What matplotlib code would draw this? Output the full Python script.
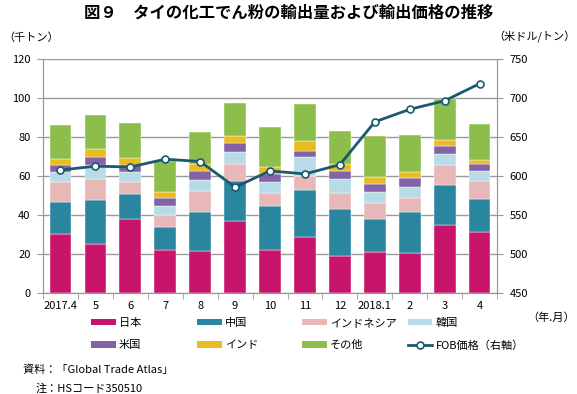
import numpy as np
import matplotlib
matplotlib.use("Agg")
import matplotlib.pyplot as plt
from matplotlib.patches import Patch
from matplotlib.lines import Line2D

plt.rcParams["font.family"] = ["Noto Sans CJK JP", "DejaVu Sans"]

# ── data (千トン / 米ドル per トン) ─────────────────────────────────────────────
MONTHS    = ["2017.4", "5", "6", "7", "8", "9", "10", "11", "12", "2018.1", "2", "3", "4"]
japan     = [30.4, 25.3, 38.3, 22.2, 21.5, 37.3, 22.1, 28.9, 19.1, 20.9, 20.5, 35.0, 31.5]
china     = [16.3, 22.4, 12.5, 12.0, 20.2, 20.5, 22.9, 24.3, 24.1, 17.2, 21.4, 20.5, 16.7]
indonesia = [10.6, 10.9,  6.1,  6.0, 10.6,  8.4,  6.5,  7.1,  8.1,  8.4,  7.2, 10.1,  9.6]
korea     = [ 5.1,  7.2,  5.2,  4.4,  6.0,  6.1,  5.8,  9.4,  7.5,  5.6,  5.3,  6.0,  5.1]
usa       = [ 3.6,  3.9,  3.9,  4.3,  4.3,  5.0,  3.7,  3.5,  3.9,  4.1,  4.6,  3.8,  3.4]
india     = [ 2.7,  4.1,  3.4,  3.2,  3.9,  3.2,  4.0,  5.1,  3.8,  3.6,  3.4,  3.1,  2.2]
others    = [17.6, 17.7, 18.0, 15.8, 16.4, 17.3, 20.5, 18.8, 16.7, 20.9, 18.8, 21.2, 18.3]
fob_price = [608, 613, 612, 622, 619, 586, 607, 603, 615, 670, 686, 697, 719]

SERIES = [
    ("日本",         japan,     "#c8156b"),
    ("中国",         china,     "#2a859f"),
    ("インドネシア", indonesia, "#e8b8b8"),
    ("韓国",         korea,     "#b8dbe8"),
    ("米国",         usa,       "#8462a7"),
    ("インド",       india,     "#e9bd22"),
    ("その他",       others,    "#8dbe4b"),
]
LINE_COLOR = "#1b5a6e"
GRID_COLOR = "#999999"
FS = 8

# ── figure ────────────────────────────────────────────────────────────────────
fig = plt.figure(figsize=(5.77, 3.94), dpi=100)
ax = fig.add_axes([0.0745, 0.256, 0.787, 0.593])

x = np.arange(len(MONTHS))
bottom = np.zeros(len(MONTHS))
for name, vals, color in SERIES:
    ax.bar(x, vals, bottom=bottom, width=0.62, color=color,
           edgecolor="white", linewidth=0.3, zorder=2)
    bottom += np.array(vals)

ax.set_xlim(-0.5, len(MONTHS) - 0.5)
ax.set_ylim(0, 120)
ax.set_yticks(range(0, 121, 20))
ax.yaxis.grid(True, color=GRID_COLOR, linewidth=1.0, zorder=0)
ax.set_axisbelow(True)

ax.set_xticks(x)
ax.set_xticklabels(MONTHS)
ax.set_xticks(np.arange(-0.5, len(MONTHS)), minor=True)
ax.tick_params(axis="x", which="major", length=0, pad=6, labelsize=FS)
ax.tick_params(axis="x", which="minor", length=4, color=GRID_COLOR)
ax.tick_params(axis="y", length=4, color=GRID_COLOR, labelsize=FS, pad=5)

for side in ["left", "bottom", "right"]:
    ax.spines[side].set_color(GRID_COLOR)
ax.spines["top"].set_visible(False)

# right axis: FOB price
ax2 = ax.twinx()
ax2.plot(x, fob_price, color=LINE_COLOR, linewidth=2, marker="o", markersize=5,
         markerfacecolor="white", markeredgecolor=LINE_COLOR, markeredgewidth=1.2,
         zorder=5)
ax2.set_ylim(450, 750)
ax2.set_yticks(range(450, 751, 50))
ax2.tick_params(axis="y", length=4, color=GRID_COLOR, labelsize=FS, pad=5)
for side in ["left", "bottom", "right"]:
    ax2.spines[side].set_color(GRID_COLOR)
ax2.spines["top"].set_visible(False)

# ── texts ─────────────────────────────────────────────────────────────────────
fig.text(0.5, 0.968, "図９　タイの化工でん粉の輸出量および輸出価格の推移",
         ha="center", va="center", fontsize=11.8, fontweight="bold")
fig.text(0.005, 0.905, "（千トン）", ha="left", va="center", fontsize=FS)
fig.text(0.997, 0.905, "（米ドル/トン）", ha="right", va="center", fontsize=FS)
fig.text(0.997, 0.193, "（年.月）", ha="right", va="center", fontsize=FS)

# legend, laid out in four evenly spaced columns
col_x = [0.158, 0.342, 0.524, 0.707]
handles = [Patch(facecolor=c, edgecolor="none") for _, _, c in SERIES]
labels = [n for n, _, _ in SERIES]
handles.append(Line2D([0], [0], color=LINE_COLOR, linewidth=2, marker="o",
                      markersize=5, markerfacecolor="white",
                      markeredgecolor=LINE_COLOR, markeredgewidth=1.2))
labels.append("FOB価格（右軸）")
for col in range(4):
    idx = [col, col + 4]
    leg = fig.legend([handles[i] for i in idx], [labels[i] for i in idx],
                     loc="upper left", bbox_to_anchor=(col_x[col], 0.193),
                     frameon=False, fontsize=FS, handlelength=2.2,
                     handleheight=0.55, handletextpad=0.3, labelspacing=1.1,
                     borderaxespad=0, borderpad=0)

fig.text(0.04, 0.062, "資料：「Global Trade Atlas」", ha="left", va="center", fontsize=FS)
fig.text(0.061, 0.014, "注：HSコード350510", ha="left", va="center", fontsize=FS)

fig.savefig("out.png", dpi=100)
